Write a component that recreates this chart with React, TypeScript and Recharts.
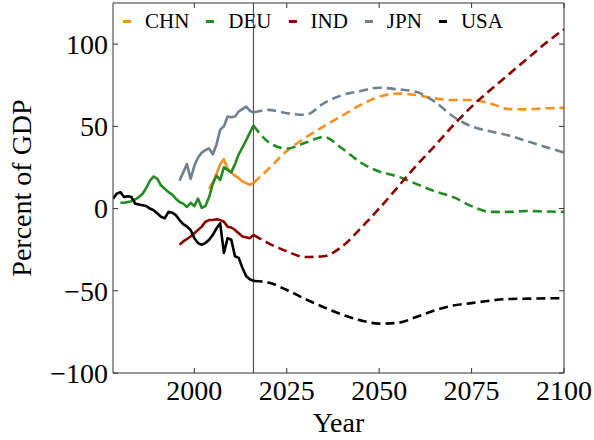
import { LineChart, Line, XAxis, YAxis, ReferenceLine, Legend } from 'recharts';

const FONT = "'Liberation Serif', 'Times New Roman', serif";

const countries = ['CHN', 'DEU', 'IND', 'JPN', 'USA'];
const colors = ['#f7901e', '#228b22', '#8b0000', '#708090', '#000000'];

const xTicks = [2000, 2025, 2050, 2075, 2100];
const yTicks = [-100, -50, 0, 50, 100];
const splitYear = 2016;

// historical (annual), first year per country
const histStart = [2004, 1980, 1996, 1996, 1978];

const chnHist = [12, 16, 21, 27, 30, 24, 22, 20, 18.5, 16.5, 15.5, 14.5, 15.5];
const deuHist = [3.5, 3.5, 4, 4.5, 5.5, 7, 9, 12.5, 17, 19.5, 18, 14, 12, 10, 8.5, 6, 4, 3, 1, 3.5, 1.5, 6, 0.5, 1.5, 7, 15, 20, 17.5, 25, 23.5, 22, 27, 33, 37, 41.5, 46, 50.5];
const indHist = [-22, -20, -18.5, -17, -15, -13, -11, -8, -7, -7, -6.5, -7, -8, -11, -11.5, -13, -15, -17, -17.5, -18, -16];
const jpnHist = [17, 22, 27, 18, 26, 31, 34, 35.5, 36.5, 33, 39, 48, 50, 56, 55.5, 56, 59, 60.5, 62, 59.5, 58.5];
const usaHist = [6, 9, 10, 7, 7.5, 7, 3, 2.5, 2, 1.5, 0, -1, -3, -5, -6, -2, -2.5, -4, -7, -9.5, -11, -13, -18, -21, -22, -21, -19, -16, -12, -9, -27, -18, -19, -29, -30, -36, -41, -43, -44];

// projections
const projYears = [2016, 2020, 2025, 2030, 2035, 2040, 2045, 2050, 2055, 2060, 2065, 2070, 2075, 2080, 2085, 2090, 2095, 2100];
const chnProj = [15.5, 24, 35, 43, 50, 56.5, 63, 68, 70, 69, 67, 66, 66, 64, 60.5, 60.3, 61, 61.3];
const deuProj = [50.5, 40.5, 36.5, 40, 43.5, 36.5, 28, 22.5, 19.5, 15, 10.5, 7, 1.5, -2, -2, -1.5, -1.8, -2];
const indProj = [-16, -21, -26, -29.5, -29, -23, -12, 0, 13, 26, 38, 50.5, 62, 72, 81.5, 91, 100.5, 109];
const jpnProj = [58.5, 60, 58, 57, 64, 69, 71.5, 73.5, 72.5, 71, 65, 56, 50, 47, 44.5, 41, 37.5, 34];
const usaProj = [-44, -45, -49.5, -55, -60, -64.5, -68, -70, -69.5, -66, -62, -59, -57.5, -56, -55, -54.8, -54.6, -54.5];

const hist = [chnHist, deuHist, indHist, jpnHist, usaHist];
const proj = [chnProj, deuProj, indProj, jpnProj, usaProj];

const histData = hist.map((vals, k) => vals.map((v, i) => ({ year: histStart[k] + i, value: v })));
const projData = proj.map((vals) => vals.map((v, i) => ({ year: projYears[i], value: v })));

const axisColor = '#333';
const tickStyle = { fontSize: 28, fill: '#000', fontFamily: FONT };

function LegendRow() {
  return (
    <div style={{ display: 'flex', alignItems: 'center', fontFamily: FONT, fontSize: 21, color: '#000', lineHeight: '24px' }}>
      {countries.map((c, i) => (
        <div key={c} style={{ display: 'flex', alignItems: 'center', marginRight: 17 }}>
          <span style={{ display: 'inline-block', width: 8, height: 3, background: colors[i], marginRight: 14 }} />
          <span>{c}</span>
        </div>
      ))}
    </div>
  );
}

export default function App() {
  return (
    <div style={{ position: 'absolute', left: 0, top: 0, width: 594, height: 440, background: '#fff' }}>
      <LineChart width={594} height={440} margin={{ top: 2, right: 29, bottom: 0, left: 0 }}>
        <XAxis
          xAxisId="b"
          dataKey="year"
          type="number"
          domain={[1978, 2100]}
          ticks={xTicks}
          allowDataOverflow
          height={67}
          tickSize={-5}
          tickMargin={12}
          tick={tickStyle}
          axisLine={{ stroke: axisColor }}
          tickLine={{ stroke: axisColor }}
          label={{ value: 'Year', position: 'insideBottom', offset: 8, fontSize: 28, fill: '#000', fontFamily: FONT }}
        />
        <XAxis
          xAxisId="t"
          orientation="top"
          dataKey="year"
          type="number"
          domain={[1978, 2100]}
          ticks={xTicks}
          allowDataOverflow
          height={1}
          tickSize={-5}
          tickFormatter={() => ''}
          axisLine={{ stroke: axisColor }}
          tickLine={{ stroke: axisColor }}
        />
        <YAxis
          yAxisId="l"
          type="number"
          domain={[-100, 125]}
          ticks={yTicks}
          allowDataOverflow
          width={113}
          tickSize={-5}
          tickMargin={10}
          tick={tickStyle}
          tickFormatter={(v: number) => (v < 0 ? `\u2212${Math.abs(v)}` : `${v}`)}
          axisLine={{ stroke: axisColor }}
          tickLine={{ stroke: axisColor }}
          label={{ value: 'Percent of GDP', angle: -90, position: 'insideLeft', offset: 21, fontSize: 28, fill: '#000', fontFamily: FONT, style: { textAnchor: 'middle' } }}
        />
        <YAxis
          yAxisId="r"
          orientation="right"
          type="number"
          domain={[-100, 125]}
          ticks={yTicks}
          allowDataOverflow
          width={1}
          tickSize={-5}
          tickFormatter={() => ''}
          axisLine={{ stroke: axisColor }}
          tickLine={{ stroke: axisColor }}
        />
        <ReferenceLine xAxisId="b" yAxisId="l" x={splitYear} stroke="#555" strokeWidth={1.2} />
        {countries.map((c, i) => (
          <Line
            key={c + '-h'}
            xAxisId="b"
            yAxisId="l"
            data={histData[i]}
            dataKey="value"
            name={c}
            type="linear"
            stroke={colors[i]}
            strokeWidth={2.6}
            strokeLinejoin="round"
            dot={false}
            activeDot={false}
            isAnimationActive={false}
          />
        ))}
        {countries.map((c, i) => (
          <Line
            key={c + '-p'}
            xAxisId="b"
            yAxisId="l"
            data={projData[i]}
            dataKey="value"
            name={c + ' projection'}
            type="monotone"
            stroke={colors[i]}
            strokeWidth={2.6}
            strokeDasharray="9 5"
            dot={false}
            activeDot={false}
            isAnimationActive={false}
          />
        ))}
        <Legend
          verticalAlign="middle"
          align="center"
          layout="horizontal"
          wrapperStyle={{ top: 9, left: 123, width: 460 }}
          content={() => <LegendRow />}
        />
      </LineChart>
    </div>
  );
}
